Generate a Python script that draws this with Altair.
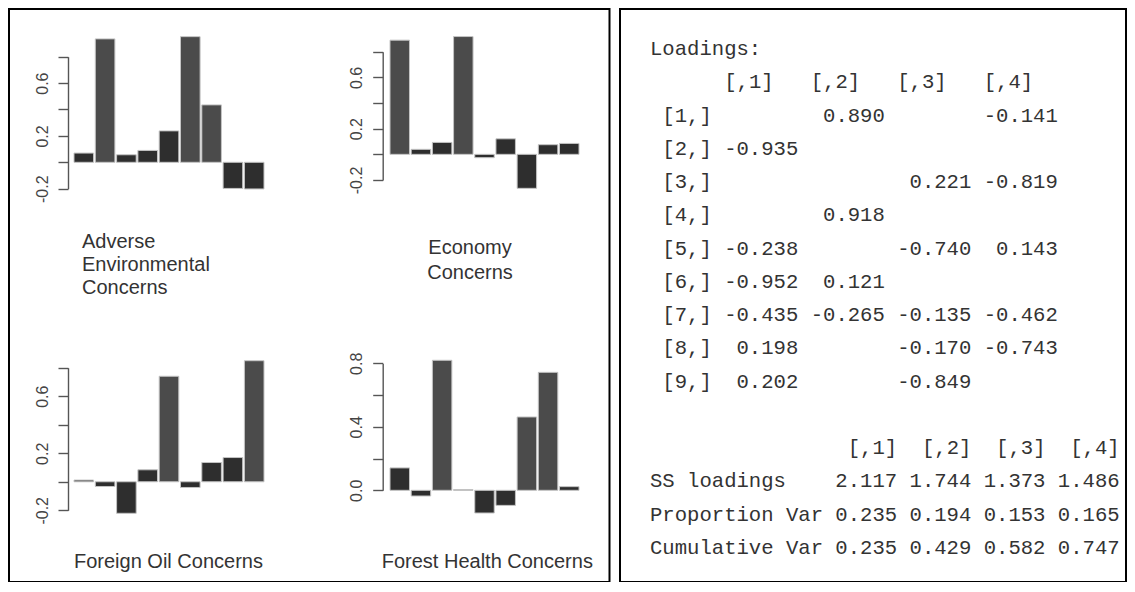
import altair as alt
import pandas as pd

# ---------------- data ----------------
items = [1, 2, 3, 4, 5, 6, 7, 8, 9]
adverse = [0.070, 0.935, 0.057, 0.090, 0.238, 0.952, 0.435, -0.198, -0.202]
economy = [0.890, 0.039, 0.093, 0.918, -0.026, 0.121, -0.265, 0.075, 0.085]
foreign = [0.012, -0.033, -0.221, 0.084, 0.740, -0.040, 0.135, 0.170, 0.849]
forest = [0.141, -0.036, 0.819, 0.004, -0.143, -0.095, 0.462, 0.743, 0.023]

panel_titles = [["Adverse", "Environmental", "Concerns"],
                ["Economy", "Concerns"],
                ["Foreign Oil Concerns"],
                ["Forest Health Concerns"]]

ticks_a = [-0.2, 0.0, 0.2, 0.4, 0.6, 0.8]
labels_a = [-0.2, 0.2, 0.6]
ticks_b = [0.0, 0.2, 0.4, 0.6, 0.8]
labels_b = [0.0, 0.4, 0.8]

load_col1 = [None, -0.935, None, None, -0.238, -0.952, -0.435, 0.198, 0.202]
load_col2 = [0.890, None, None, 0.918, None, 0.121, -0.265, None, None]
load_col3 = [None, None, 0.221, None, -0.740, None, -0.135, -0.170, -0.849]
load_col4 = [-0.141, None, -0.819, None, 0.143, None, -0.462, -0.743, None]
ss_loadings = [2.117, 1.744, 1.373, 1.486]
proportion_var = [0.235, 0.194, 0.153, 0.165]
cumulative_var = [0.235, 0.429, 0.582, 0.747]

W, H = 1119, 574
FONT = "Liberation Sans"
AXC = "#555555"
MONO_SIZE = 20.6
CHAR_W = 0.6 * MONO_SIZE


def label_expr(labels):
    parts = [f"abs(datum.value - ({v})) < 0.001 ? '{v:.1f}' : " for v in labels]
    return "".join(parts) + "''"


def bars(values, xr, yr, domain, ticks, labels, axis_x):
    df = pd.DataFrame({"item": items, "loading": values})
    df["kind"] = ["strong" if abs(v) > 0.3 else "weak" for v in values]
    return alt.Chart(df).mark_bar(stroke="#c4c4c4", strokeWidth=1).encode(
        x=alt.X("item:O", scale=alt.Scale(range=xr, paddingInner=0.08, paddingOuter=0), axis=None),
        y=alt.Y("loading:Q",
                scale=alt.Scale(domain=domain, range=yr, nice=False, zero=False),
                axis=alt.Axis(orient="left", values=ticks, labelExpr=label_expr(labels),
                              offset=-axis_x, title=None, grid=False,
                              domainColor=AXC, domainWidth=1.4, tickColor=AXC, tickWidth=1.4,
                              tickSize=10, labelAngle=270, labelAlign="center",
                              labelBaseline="alphabetic", labelPadding=11,
                              labelFont=FONT, labelFontSize=16, labelColor="#444444",
                              labelOverlap=False)),
        y2=alt.datum(0),
        color=alt.Color("kind:N", scale=alt.Scale(domain=["weak", "strong"],
                                                  range=["#2e2e2e", "#4b4b4b"]), legend=None),
    )


def text_line(t, x, y, align="left", size=20):
    return alt.Chart(alt.Data(values=[{"t": t}])).mark_text(
        font=FONT, fontSize=size, align=align, baseline="alphabetic", color="#333333"
    ).encode(x=alt.value(x), y=alt.value(y), text="t:N")


def box(x1, y1, x2, y2):
    return alt.Chart(alt.Data(values=[{"a": 1}])).mark_rect(
        fillOpacity=0, stroke="black", strokeWidth=2
    ).encode(x=alt.value(x1), x2=alt.value(x2), y=alt.value(y1), y2=alt.value(y2))


layers = []
layers.append(box(1, 1, 601.5, 574))
layers.append(box(612, 1, 1118, 574))

layers.append(bars(adverse, [66, 256], [180.7, 48.7], [-0.2, 0.8], ticks_a, labels_a, 60))
layers.append(bars(economy, [382, 571], [172, 43.7], [-0.2, 0.8], ticks_a, labels_a, 374.7))
layers.append(bars(foreign, [66, 256], [502.3, 359.7], [-0.2, 0.8], ticks_a, labels_a, 60))
layers.append(bars(forest, [382, 571], [482.3, 355.3], [0.0, 0.8], ticks_b, labels_b, 374.7))

for i, t in enumerate(panel_titles[0]):
    layers.append(text_line(t, 74, 240 + 23 * i))
for i, t in enumerate(panel_titles[1]):
    layers.append(text_line(t, 462, 245.5 + 25 * i, align="center"))
layers.append(text_line(panel_titles[2][0], 66, 560.3))
layers.append(text_line(panel_titles[3][0], 373.7, 560.3))

# ---------------- loadings text table ----------------
cols = [load_col1, load_col2, load_col3, load_col4]
lines = ["Loadings:", " " * 6 + "   ".join(f"[,{k}]" for k in range(1, 5))]
for r in range(9):
    s = f" [{r + 1},]"
    for c in cols:
        v = c[r]
        s += " " + (f"{v:6.3f}" if v is not None else " " * 6)
    lines.append(s.rstrip())
lines.append("")
lines.append(" " * 14 + "".join(f"  [,{k}]" for k in range(1, 5)))
for name, vals in [("SS loadings", ss_loadings), ("Proportion Var", proportion_var),
                   ("Cumulative Var", cumulative_var)]:
    lines.append(name.ljust(14) + "".join(f" {v:.3f}" for v in vals))

indent = [len(l) - len(l.lstrip(" ")) for l in lines]
tdf = pd.DataFrame({"row": list(range(len(lines))),
                    "indent": indent,
                    "line": [l.strip(" ").replace(" ", "\u00a0") for l in lines]})
layers.append(alt.Chart(tdf).mark_text(
    font="Liberation Mono", fontSize=MONO_SIZE, align="left", baseline="middle", color="#333333"
).encode(x=alt.X("indent:Q", scale=alt.Scale(domain=[0, 10], range=[642, 642 + 10 * CHAR_W]),
                 axis=None),
         y=alt.Y("row:Q", scale=alt.Scale(domain=[0, 15], range=[41, 540]), axis=None),
         text="line:N"))

chart = alt.layer(*layers).resolve_scale(
    x="independent", y="independent", color="independent"
).properties(width=W, height=H, padding=0, autosize="none", background="white"
).configure_view(stroke=None)

chart.save("out.html", embed_options={"renderer": "svg", "actions": False})
